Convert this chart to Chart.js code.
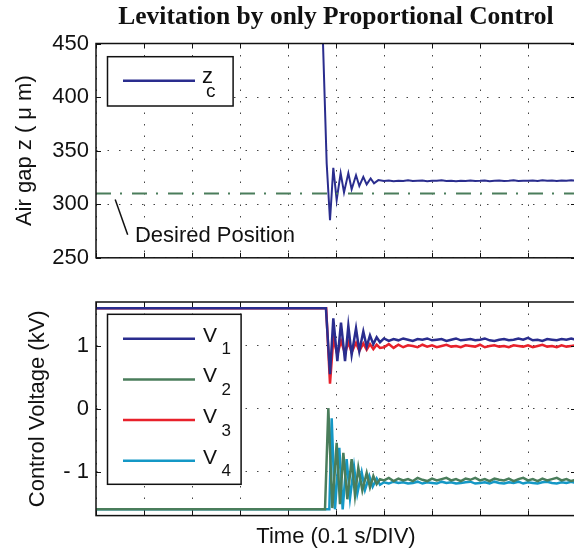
<!DOCTYPE html>
<html>
<head>
<meta charset="utf-8">
<script src="https://cdn.jsdelivr.net/npm/chart.js@4.4.1/dist/chart.umd.min.js"></script>
<style>
  html, body { margin: 0; padding: 0; background: #fff; overflow: hidden; width: 574px; height: 559px; }
  #wrap { position: relative; width: 580px; height: 559px; }
  canvas { position: absolute; left: 0; }
  #top { top: 0; }
  #bottom { top: 262px; }
</style>
</head>
<body>
<div id="wrap">
  <canvas id="top" width="580" height="278"></canvas>
  <canvas id="bottom" width="580" height="297"></canvas>
</div>
<script>
// time in s, one division = 0.1 s
const desiredT = [0, 1];
const desiredV = [310, 310];

// air gap z_c (um), transient part
const zcT = [0, 0.4695, 0.4806, 0.4875, 0.4944, 0.5014, 0.5097, 0.5167, 0.5257, 0.5326, 0.5417, 0.5486, 0.5569, 0.5639, 0.5722, 0.5792, 0.5882];
const zcV = [500, 500, 338, 285, 334, 304, 329, 311, 329, 314, 327, 317, 325.5, 318.5, 324, 319.5, 322.5];

// control voltages (kV), transient part
const v1T = [0, 0.479, 0.4875, 0.4944, 0.5028, 0.5104, 0.5188, 0.5257, 0.5326, 0.5417, 0.5486, 0.5569, 0.5639, 0.5708, 0.5778, 0.5847, 0.5917];
const v1V = [1.6, 1.6, 0.55, 1.44, 0.76, 1.37, 0.76, 1.32, 0.86, 1.28, 0.92, 1.23, 0.99, 1.17, 1.03, 1.14, 1.06];
const v2T = [0, 0.4771, 0.4840, 0.4924, 0.5014, 0.5083, 0.5153, 0.5236, 0.5326, 0.5396, 0.5465, 0.5549, 0.5639, 0.5708, 0.5778, 0.5847, 0.5917];
const v2V = [-1.6, -1.6, 0.01, -1.58, -0.54, -1.52, -0.70, -1.44, -0.80, -1.38, -0.94, -1.30, -1.02, -1.25, -1.07, -1.20, -1.12];
const v3T = [0, 0.4795, 0.4875, 0.4944, 0.5028, 0.5104, 0.5188, 0.5257, 0.5326, 0.5417, 0.5486, 0.5569, 0.5639, 0.5708, 0.5778, 0.5847, 0.5917];
const v3V = [1.6, 1.6, 0.40, 1.12, 0.86, 1.08, 0.88, 1.06, 0.90, 1.05, 0.92, 1.04, 0.94, 1.03, 0.95, 1.02, 0.97];
const v4T = [0, 0.4861, 0.4910, 0.4979, 0.5069, 0.5139, 0.5222, 0.5292, 0.5375, 0.5444, 0.5535, 0.5604, 0.5694, 0.5764, 0.5847, 0.5917];
const v4V = [-1.6, -1.6, -0.15, -1.6, -0.62, -1.6, -0.80, -1.42, -0.92, -1.35, -1.01, -1.29, -1.07, -1.24, -1.11, -1.21];

// steady state (shared time base)
const steadyT = [0.60, 0.61, 0.62, 0.63, 0.64, 0.65, 0.66, 0.67, 0.68, 0.69,
                 0.70, 0.71, 0.72, 0.73, 0.74, 0.75, 0.76, 0.77, 0.78, 0.79,
                 0.80, 0.81, 0.82, 0.83, 0.84, 0.85, 0.86, 0.87, 0.88, 0.89,
                 0.90, 0.91, 0.92, 0.93, 0.94, 0.95, 0.96, 0.97, 0.98, 0.99,
                 1.00];
const zcS = [321.6, 322.2, 321.5, 322.0, 321.7, 322.3, 321.6, 321.9, 322.1, 321.5,
             322.0, 321.8, 322.3, 321.6, 321.9, 321.4, 322.0, 321.7, 322.2, 321.6,
             321.8, 322.1, 321.5, 321.9, 322.2, 321.7, 321.9, 322.3, 321.6, 322.0,
             321.8, 322.2, 321.7, 322.4, 321.9, 322.1, 321.6, 322.2, 321.8, 322.3,
             321.9];
const v1S = [1.12, 1.08, 1.11, 1.09, 1.12, 1.10, 1.08, 1.11, 1.10, 1.12,
             1.09, 1.10, 1.11, 1.08, 1.10, 1.12, 1.09, 1.10, 1.11, 1.09,
             1.10, 1.12, 1.09, 1.08, 1.10, 1.11, 1.09, 1.10, 1.12, 1.10,
             1.13, 1.09, 1.10, 1.08, 1.11, 1.10, 1.09, 1.11, 1.10, 1.12,
             1.10];
const v2S = [-1.14, -1.10, -1.15, -1.11, -1.14, -1.12, -1.15, -1.10, -1.13, -1.15,
             -1.11, -1.14, -1.12, -1.10, -1.14, -1.12, -1.15, -1.11, -1.13, -1.10,
             -1.14, -1.12, -1.15, -1.11, -1.13, -1.14, -1.11, -1.15, -1.12, -1.10,
             -1.14, -1.12, -1.15, -1.11, -1.14, -1.12, -1.10, -1.14, -1.12, -1.15,
             -1.13];
const v3S = [0.98, 1.03, 0.97, 1.02, 0.98, 1.01, 1.00, 0.98, 1.02, 0.99,
             1.01, 0.98, 1.00, 1.02, 0.99, 1.00, 0.98, 1.01, 1.00, 0.99,
             1.02, 0.98, 1.00, 1.01, 0.99, 1.00, 0.98, 1.01, 1.00, 0.99,
             1.01, 0.98, 1.00, 1.02, 0.99, 1.00, 0.98, 1.01, 0.99, 1.00,
             1.01];
const v4S = [-1.17, -1.19, -1.16, -1.18, -1.17, -1.19, -1.18, -1.16, -1.19, -1.17,
             -1.18, -1.19, -1.16, -1.18, -1.17, -1.19, -1.18, -1.17, -1.16, -1.19,
             -1.18, -1.17, -1.19, -1.16, -1.18, -1.19, -1.17, -1.18, -1.16, -1.19,
             -1.17, -1.18, -1.19, -1.17, -1.16, -1.18, -1.19, -1.17, -1.18, -1.16,
             -1.18];

const topTicks = [250, 300, 350, 400, 450];
const bottomTicks = [-1, 0, 1];

const BLUE = '#2A2D8E', GREEN = '#4A7D5B', RED = '#E8212B', CYAN = '#1498C6';

Chart.defaults.font.family = "'Liberation Sans', Arial, sans-serif";
Chart.defaults.color = '#111';

function pts(t, v) {
    return t.map((ti, i) => ({ x: ti, y: v[i] }));
}

// draws the closed box with inward ticks, like matlab axes
function drawBox(chart) {
    const { ctx, chartArea: a, scales: { x, y } } = chart;
    ctx.save();
    ctx.strokeStyle = '#111';
    ctx.lineWidth = 1;
    ctx.beginPath();
    x.ticks.forEach(t => {
        const px = Math.round(x.getPixelForValue(t.value)) + 0.5;
        ctx.moveTo(px, a.bottom); ctx.lineTo(px, a.bottom - 5);
        ctx.moveTo(px, a.top); ctx.lineTo(px, a.top + 5);
    });
    y.ticks.forEach(t => {
        const py = Math.round(y.getPixelForValue(t.value)) + 0.5;
        ctx.moveTo(a.left, py); ctx.lineTo(a.left + 5, py);
        ctx.moveTo(a.right, py); ctx.lineTo(a.right - 5, py);
    });
    ctx.stroke();
    ctx.lineWidth = 1.5;
    ctx.strokeRect(a.left, a.top, a.right - a.left, a.bottom - a.top);
    ctx.restore();
}

function drawLegend(chart, entries, o) {
    const { ctx, chartArea: a } = chart;
    const bx = a.left + 11.5, by = a.top + o.dy;
    ctx.save();
    ctx.fillStyle = '#fff';
    ctx.fillRect(bx, by, o.w, o.h);
    ctx.strokeStyle = '#111';
    ctx.lineWidth = 1.5;
    ctx.strokeRect(bx, by, o.w, o.h);
    entries.forEach((e, i) => {
        const ly = a.top + o.first + i * o.step;
        ctx.strokeStyle = e.color;
        ctx.lineWidth = 2.5;
        ctx.beginPath();
        ctx.moveTo(a.left + 27, ly);
        ctx.lineTo(a.left + 99, ly);
        ctx.stroke();
        ctx.fillStyle = '#111';
        ctx.textBaseline = 'alphabetic';
        ctx.textAlign = 'left';
        ctx.font = o.font;
        ctx.fillText(e.main, a.left + o.tx, ly + o.b1);
        ctx.font = o.subFont;
        ctx.fillText(e.sub, a.left + o.sx, ly + o.b2);
    });
    ctx.restore();
}

const topPlugin = {
    id: 'topDecor',
    afterDraw(chart) {
        const { ctx, scales: { x, y } } = chart;
        drawBox(chart);
        drawLegend(chart, [{ main: 'z', sub: 'c', color: BLUE }], {
            dy: 13.2, w: 125.6, h: 49.3, first: 37.2, step: 0,
            tx: 106, sx: 110, b1: 2.6, b2: 16.3,
            font: "22px 'Liberation Sans'", subFont: "19px 'Liberation Sans'"
        });
        // "Desired Position" note with its leader line
        ctx.save();
        ctx.strokeStyle = '#111';
        ctx.lineWidth = 1.5;
        ctx.beginPath();
        ctx.moveTo(x.getPixelForValue(0.040), y.getPixelForValue(304.5));
        ctx.lineTo(x.getPixelForValue(0.066), y.getPixelForValue(271.5));
        ctx.stroke();
        ctx.fillStyle = '#111';
        ctx.font = "22px 'Liberation Sans'";
        ctx.textBaseline = 'middle';
        ctx.fillText('Desired Position', x.getPixelForValue(0.081), y.getPixelForValue(270));
        ctx.restore();
    }
};

const bottomPlugin = {
    id: 'bottomDecor',
    afterDraw(chart) {
        drawBox(chart);
        drawLegend(chart, [
            { main: 'V', sub: '1', color: BLUE },
            { main: 'V', sub: '2', color: GREEN },
            { main: 'V', sub: '3', color: RED },
            { main: 'V', sub: '4', color: CYAN }
        ], {
            dy: 12.3, w: 133.6, h: 170, first: 36.7, step: 40.7,
            tx: 107, sx: 125.5, b1: 3, b2: 15.5,
            font: "21px 'Liberation Sans'", subFont: "17px 'Liberation Sans'"
        });
    }
};

const gridOpts = { color: '#444', lineWidth: 1, drawTicks: false };
const borderOpts = { display: false, dash: [1.5, 10] };

const xAxis = (title) => ({
    type: 'linear',
    min: 0,
    max: 1,
    ticks: { stepSize: 0.1, display: false },
    grid: gridOpts,
    border: borderOpts,
    title: title
});

// top: air gap
new Chart(document.getElementById('top'), {
    type: 'line',
    data: {
        datasets: [
            {
                data: pts(desiredT, desiredV),
                borderColor: GREEN,
                borderWidth: 2,
                borderDash: [15, 9, 2, 10],
                pointRadius: 0
            },
            {
                data: pts(zcT.concat(steadyT), zcV.concat(zcS)),
                borderColor: BLUE,
                borderWidth: 2,
                pointRadius: 0
            }
        ]
    },
    options: {
        responsive: false,
        animation: false,
        layout: { padding: { top: 0, right: 4, bottom: 4, left: 0 } },
        scales: {
            x: xAxis({ display: false }),
            y: {
                min: 250,
                max: 450,
                afterBuildTicks: (s) => { s.ticks = topTicks.map(v => ({ value: v })); },
                ticks: { padding: 7, font: { size: 22 } },
                grid: gridOpts,
                border: borderOpts,
                title: { display: true, text: 'Air gap z ( μ m)', font: { size: 22 }, padding: { top: 11.8, bottom: 0 } },
                afterFit: (s) => { s.width = 96; }
            }
        },
        plugins: {
            legend: { display: false },
            tooltip: { enabled: false },
            title: {
                display: true,
                fullSize: false,
                text: 'Levitation by only Proportional Control',
                color: '#111',
                font: { family: "'Liberation Serif', 'Times New Roman', serif", size: 25.5, weight: 'bold', lineHeight: 1 },
                padding: { top: 5, bottom: 13 }
            }
        }
    },
    plugins: [topPlugin]
});

// bottom: control voltages
new Chart(document.getElementById('bottom'), {
    type: 'line',
    data: {
        datasets: [
            { label: 'V1', data: pts(v1T.concat(steadyT), v1V.concat(v1S)), borderColor: BLUE, borderWidth: 2.5, pointRadius: 0 },
            { label: 'V2', data: pts(v2T.concat(steadyT), v2V.concat(v2S)), borderColor: GREEN, borderWidth: 2.5, pointRadius: 0 },
            { label: 'V3', data: pts(v3T.concat(steadyT), v3V.concat(v3S)), borderColor: RED, borderWidth: 2.5, pointRadius: 0 },
            { label: 'V4', data: pts(v4T.concat(steadyT), v4V.concat(v4S)), borderColor: CYAN, borderWidth: 2.5, pointRadius: 0 }
        ]
    },
    options: {
        responsive: false,
        animation: false,
        layout: { padding: { top: 40, right: 4, bottom: 0, left: 0 } },
        scales: {
            x: xAxis({ display: true, text: 'Time (0.1 s/DIV)', font: { size: 22 }, padding: { top: 8, bottom: 9 } }),
            y: {
                min: -1.7,
                max: 1.7,
                afterBuildTicks: (s) => { s.ticks = bottomTicks.map(v => ({ value: v })); },
                ticks: {
                    padding: 7,
                    font: { size: 22 },
                    callback: (v) => v < 0 ? '- ' + Math.abs(v) : String(v)
                },
                grid: gridOpts,
                border: borderOpts,
                title: { display: true, text: 'Control Voltage (kV)', font: { size: 22 }, padding: { top: 24.8, bottom: 0 } },
                afterFit: (s) => { s.width = 96; }
            }
        },
        plugins: {
            legend: { display: false },
            tooltip: { enabled: false },
            title: { display: false }
        }
    },
    plugins: [bottomPlugin]
});
</script>
</body>
</html>
